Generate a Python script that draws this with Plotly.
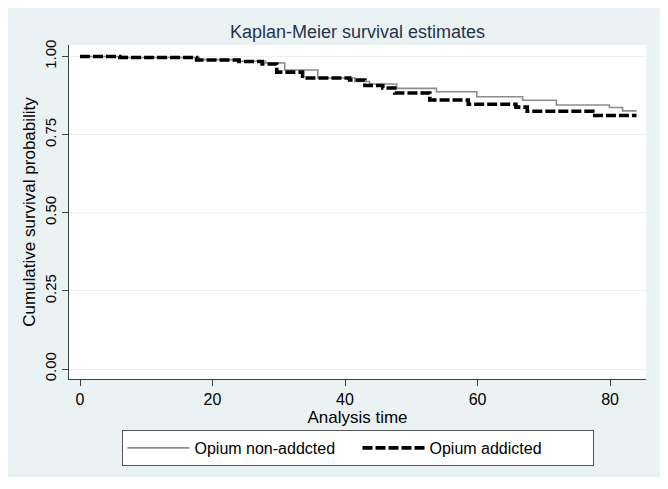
import plotly.graph_objects as go

# Kaplan-Meier step data
time_non_addicted = [0, 7, 18, 24, 28, 30.9, 35.9, 41.5, 43.7, 47.8, 53.8, 59.9, 66.8, 71.9, 79.9, 81.9, 84]
surv_non_addicted = [1.000, 0.997, 0.990, 0.985, 0.979, 0.957, 0.931, 0.920, 0.912, 0.898, 0.887, 0.871, 0.860, 0.845, 0.837, 0.826, 0.826]

time_addicted = [0, 6, 17.6, 24, 27.5, 29.7, 33.6, 40.7, 43, 45.7, 47.5, 52.8, 58.6, 65.8, 67.5, 77.4, 84]
surv_addicted = [1.000, 0.997, 0.989, 0.984, 0.976, 0.950, 0.931, 0.925, 0.907, 0.899, 0.883, 0.861, 0.847, 0.838, 0.825, 0.811, 0.811]

x_ticks = [0, 20, 40, 60, 80]
y_ticks = [0, 0.25, 0.5, 0.75, 1.0]
y_tick_labels = ["0.00", "0.25", "0.50", "0.75", "1.00"]

FONT = "Arial, Liberation Sans, Helvetica, sans-serif"
BG = "#eaf2f3"

# figure is placed at (8, 8) in the page (default body margin)
L, T, R, B = 61, 37, 30, 118
PW, PH = 668 - L - R, 489 - T - B


def px_x(p):
    return (p - L) / PW


def px_y(p):
    return (489 - B - p) / PH


fig = go.Figure()
fig.add_trace(go.Scatter(
    x=time_non_addicted, y=surv_non_addicted, mode="lines", line_shape="hv",
    name="Opium non-addcted", line=dict(color="#8c8c8c", width=1.6)))
fig.add_trace(go.Scatter(
    x=time_addicted, y=surv_addicted, mode="lines", line_shape="hv",
    name="Opium addicted", line=dict(color="black", width=3.6, dash="10px,3px")))

# outer light background and white plot region
fig.add_shape(type="rect", xref="paper", yref="paper", x0=px_x(-5), x1=px_x(652),
              y0=px_y(469), y1=px_y(-5), fillcolor=BG, line_width=0, layer="below")
fig.add_shape(type="rect", xref="paper", yref="paper", x0=0, x1=1, y0=0, y1=1,
              fillcolor="white", line_width=0, layer="below")

fig.update_layout(
    width=668, height=489,
    margin=dict(l=L, r=R, t=T, b=B, autoexpand=False),
    paper_bgcolor="white", plot_bgcolor="rgba(0,0,0,0)",
    font=dict(family=FONT, color="black"),
    title=dict(text="Kaplan-Meier survival estimates", x=0.5, xref="paper",
               y=1 - 24 / 489, yref="container", yanchor="middle", xanchor="center",
               pad=dict(t=0, b=0, l=0, r=0),
               font=dict(size=18, color="#233350", family=FONT)),
    xaxis=dict(range=[-1.66, 85.43], tickvals=x_ticks, showgrid=False, zeroline=False,
               showline=True, linecolor="#404040", linewidth=1,
               ticks="outside", ticklen=6, tickcolor="#404040",
               tickfont=dict(size=16, color="black"),
               title=dict(text="Analysis time", font=dict(size=17), standoff=0)),
    yaxis=dict(range=[-0.032, 1.0368], tickvals=y_ticks, ticktext=y_tick_labels,
               tickangle=-90, showgrid=True, gridcolor=BG, gridwidth=1, zeroline=False,
               showline=True, linecolor="#404040", linewidth=1,
               ticks="outside", ticklen=6, tickcolor="#404040",
               tickfont=dict(size=15, color="black"),
               title=dict(text="Cumulative survival probability", font=dict(size=17), standoff=2)),
    legend=dict(orientation="h", x=0.5, xanchor="center", y=px_y(422), yanchor="top",
                bgcolor="white", bordercolor="#555555", borderwidth=1,
                font=dict(size=16), itemwidth=62, entrywidth=158, entrywidthmode="pixels",
                tracegroupgap=0),
    showlegend=True,
)

fig.write_html("out.html")
